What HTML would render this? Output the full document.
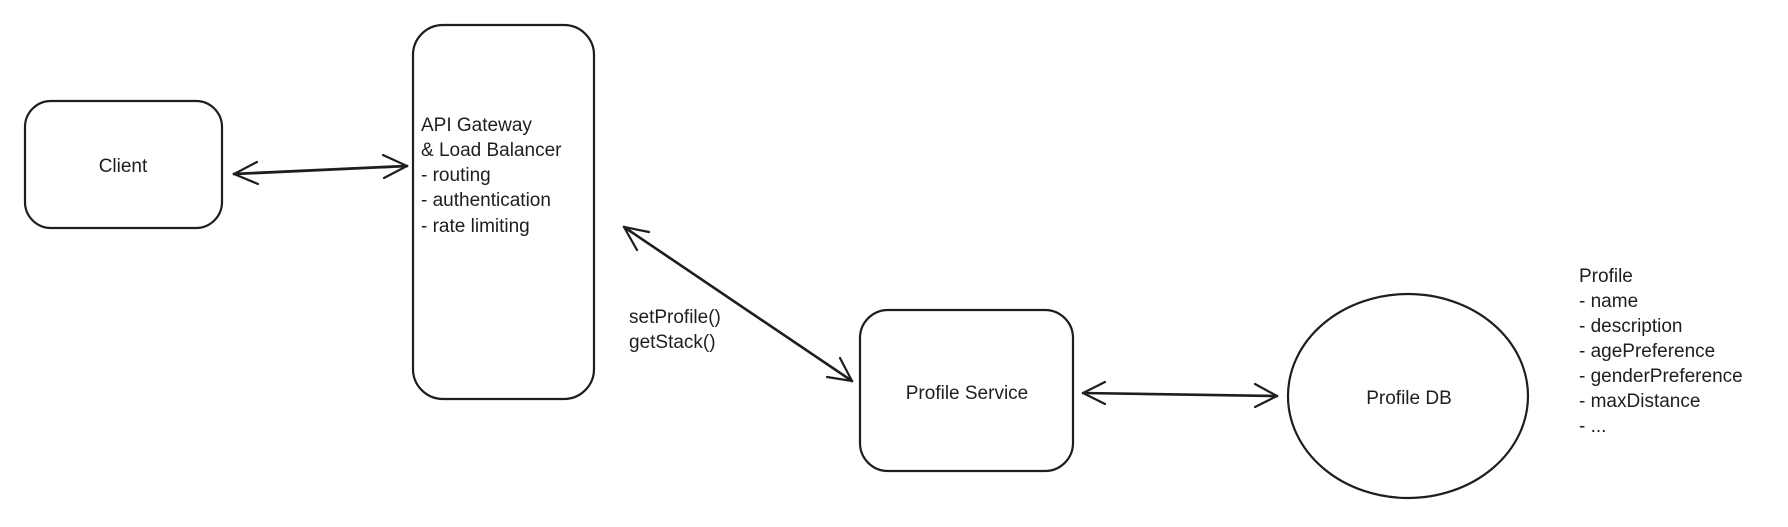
<!DOCTYPE html>
<html><head><meta charset="utf-8"><style>
html,body{margin:0;padding:0;background:#fff;}
svg text{font-family:"Liberation Sans",sans-serif;font-size:19px;fill:#1e1e1e;}
</style></head><body>
<svg width="1788" height="522" viewBox="0 0 1788 522" xmlns="http://www.w3.org/2000/svg">
<g fill="none" stroke="#1e1e1e" stroke-width="2.2" stroke-linecap="round" stroke-linejoin="round">
<rect x="25" y="101" width="197" height="127" rx="26"/>
<rect x="413" y="25" width="181" height="374" rx="30"/>
<rect x="860" y="310" width="213" height="161" rx="28"/>
<ellipse cx="1408" cy="396" rx="120" ry="102"/>
<line x1="234" y1="174" x2="407" y2="166" stroke-width="2.8"/>
<polyline points="257,162 234,174 258,184"/>
<polyline points="383,155 407,166 384,178"/>
<line x1="624" y1="227" x2="852" y2="381" stroke-width="2.6"/>
<polyline points="649,232 624,227 637,250"/>
<polyline points="840,358 852,381 827,377"/>
<line x1="1083" y1="393" x2="1277" y2="396" stroke-width="2.6"/>
<polyline points="1105,382 1083,393 1105,404"/>
<polyline points="1255,384 1277,396 1255,407"/>
</g>
<text x="123" y="172" text-anchor="middle">Client</text>
<text x="421" y="131">API Gateway</text>
<text x="421" y="156">&amp; Load Balancer</text>
<text x="421" y="181">- routing</text>
<text x="421" y="206">- authentication</text>
<text x="421" y="232">- rate limiting</text>
<text x="629" y="323">setProfile()</text>
<text x="629" y="348">getStack()</text>
<text x="967" y="399" text-anchor="middle">Profile Service</text>
<text x="1409" y="404" text-anchor="middle">Profile DB</text>
<text x="1579" y="282">Profile</text>
<text x="1579" y="307">- name</text>
<text x="1579" y="332">- description</text>
<text x="1579" y="357">- agePreference</text>
<text x="1579" y="382">- genderPreference</text>
<text x="1579" y="407">- maxDistance</text>
<text x="1579" y="432">- ...</text>
</svg>
</body></html>
